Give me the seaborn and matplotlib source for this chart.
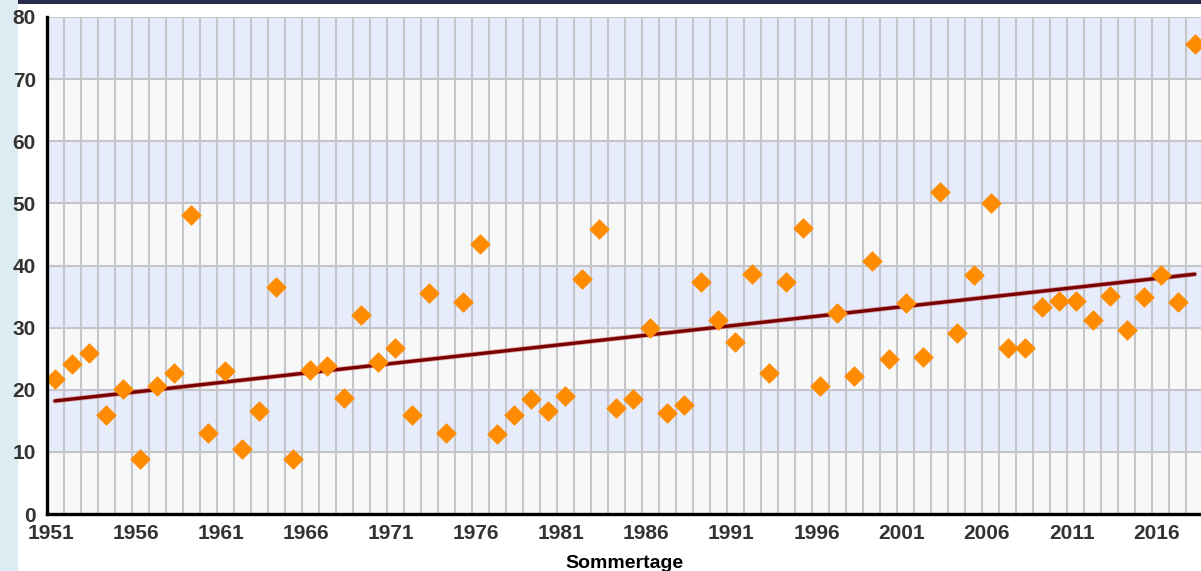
import numpy as np
import pandas as pd
import matplotlib
matplotlib.use("Agg")
import matplotlib.pyplot as plt
import matplotlib.transforms as mtransforms
import matplotlib.patheffects as pe
from matplotlib.ticker import MultipleLocator, FixedLocator
import seaborn as sns

years = list(range(1951, 2019))
sommertage = [21.7, 24.1, 25.9, 16.0, 20.1, 8.9, 20.6, 22.7, 48.2, 13.1,
              23.0, 10.5, 16.6, 36.5, 8.9, 23.2, 23.8, 18.7, 32.0, 24.4,
              26.7, 16.0, 35.5, 13.1, 34.2, 43.4, 12.8, 16.0, 18.5, 16.6,
              19.0, 37.9, 45.9, 17.1, 18.5, 30.0, 16.3, 17.6, 37.3, 31.2,
              27.7, 38.6, 22.7, 37.3, 46.1, 20.6, 32.3, 22.2, 40.8, 25.0,
              33.9, 25.3, 51.9, 29.1, 38.4, 50.1, 26.7, 26.7, 33.4, 34.3,
              34.3, 31.2, 35.1, 29.6, 35.0, 38.4, 34.2, 75.7]
trend_years = [1951, 2018]
trend_values = [18.2, 38.6]
xtick_years = list(range(1951, 2017, 5))
ytick_values = list(range(0, 81, 10))
xlabel = "Sommertage"

df = pd.DataFrame({"Jahr": years, "Tage": sommertage})
df_trend = pd.DataFrame({"Jahr": trend_years, "Tage": trend_values})

sns.set_theme(style="white")
plt.rcParams["font.family"] = ["Liberation Sans Narrow", "Liberation Sans", "DejaVu Sans"]

fig = plt.figure(figsize=(12.01, 5.71), dpi=100)
fig.patch.set_facecolor("white")
# decorative page strips
fig.add_artist(plt.Rectangle((0, 0), 18 / 1201, 1, transform=fig.transFigure,
                             facecolor="#dcecf2", edgecolor="none", zorder=0))
fig.add_artist(plt.Rectangle((18 / 1201, 1 - 4 / 571), 1, 4 / 571, transform=fig.transFigure,
                             facecolor="#2b2d4e", edgecolor="none", zorder=0))

ax = fig.add_axes([47 / 1201, 1 - 514 / 571, 1 - 47 / 1201, (514 - 17) / 571])
ax.set_facecolor("#f8f8f8")

# alternating horizontal bands
for i, lo in enumerate(ytick_values[:-1]):
    if i % 2 == 1:
        ax.axhspan(lo, lo + 10, facecolor="#e6ecfc", edgecolor="none", zorder=0)

ax.set_xlim(1950.53, 2018.37)
ax.set_ylim(0, 80)

# grid
for yv in ytick_values[1:]:
    ax.axhline(yv, color="#c6c6ca", lw=1.5, zorder=1)
for yr in years[:-1]:
    ax.axvline(yr + 0.5, color="#c6c6ca", lw=1.5, zorder=1)

sns.lineplot(data=df_trend, x="Jahr", y="Tage", ax=ax, color="#7a0000", lw=2.4,
             zorder=3, legend=False,
             path_effects=[pe.Stroke(linewidth=3.6, foreground="#c87070", alpha=0.6), pe.Normal()])
sns.scatterplot(data=df, x="Jahr", y="Tage", ax=ax, marker="D", s=95,
                color="#ff8c00", edgecolor="#ff8c00", linewidth=0.8, zorder=4,
                legend=False)

# axes styling
for side in ["top", "right"]:
    ax.spines[side].set_visible(False)
for side in ["left", "bottom"]:
    ax.spines[side].set_color("black")
    ax.spines[side].set_linewidth(2.4)
    ax.spines[side].set_zorder(5)

ax.yaxis.set_major_locator(FixedLocator(ytick_values))
ax.yaxis.set_minor_locator(MultipleLocator(2))
ax.xaxis.set_major_locator(FixedLocator(xtick_years))
ax.xaxis.set_minor_locator(FixedLocator([y + 0.5 for y in years[:-1]]))

ax.tick_params(axis="y", which="major", direction="in", length=6, width=1.8,
               color="black", labelsize=15, labelcolor="#333333", pad=8)
ax.tick_params(axis="y", which="minor", direction="in", length=4, width=1.6, color="black")
ax.tick_params(axis="x", which="major", direction="in", length=0,
               labelsize=15, labelcolor="#333333", pad=7)
ax.tick_params(axis="x", which="minor", direction="in", length=6, width=1.6, color="black")
for lab in ax.get_yticklabels():
    lab.set_fontweight("bold")
for lab in ax.get_xticklabels():
    lab.set_fontweight("bold")
    lab.set_transform(lab.get_transform() + mtransforms.ScaledTranslation(-4 / 100, 0, fig.dpi_scale_trans))

ax.set_xlabel(xlabel, fontsize=14, fontweight="bold", color="black",
              family=["Liberation Sans", "DejaVu Sans"], labelpad=9)
ax.set_ylabel("")

fig.savefig("out.png", dpi=100)
